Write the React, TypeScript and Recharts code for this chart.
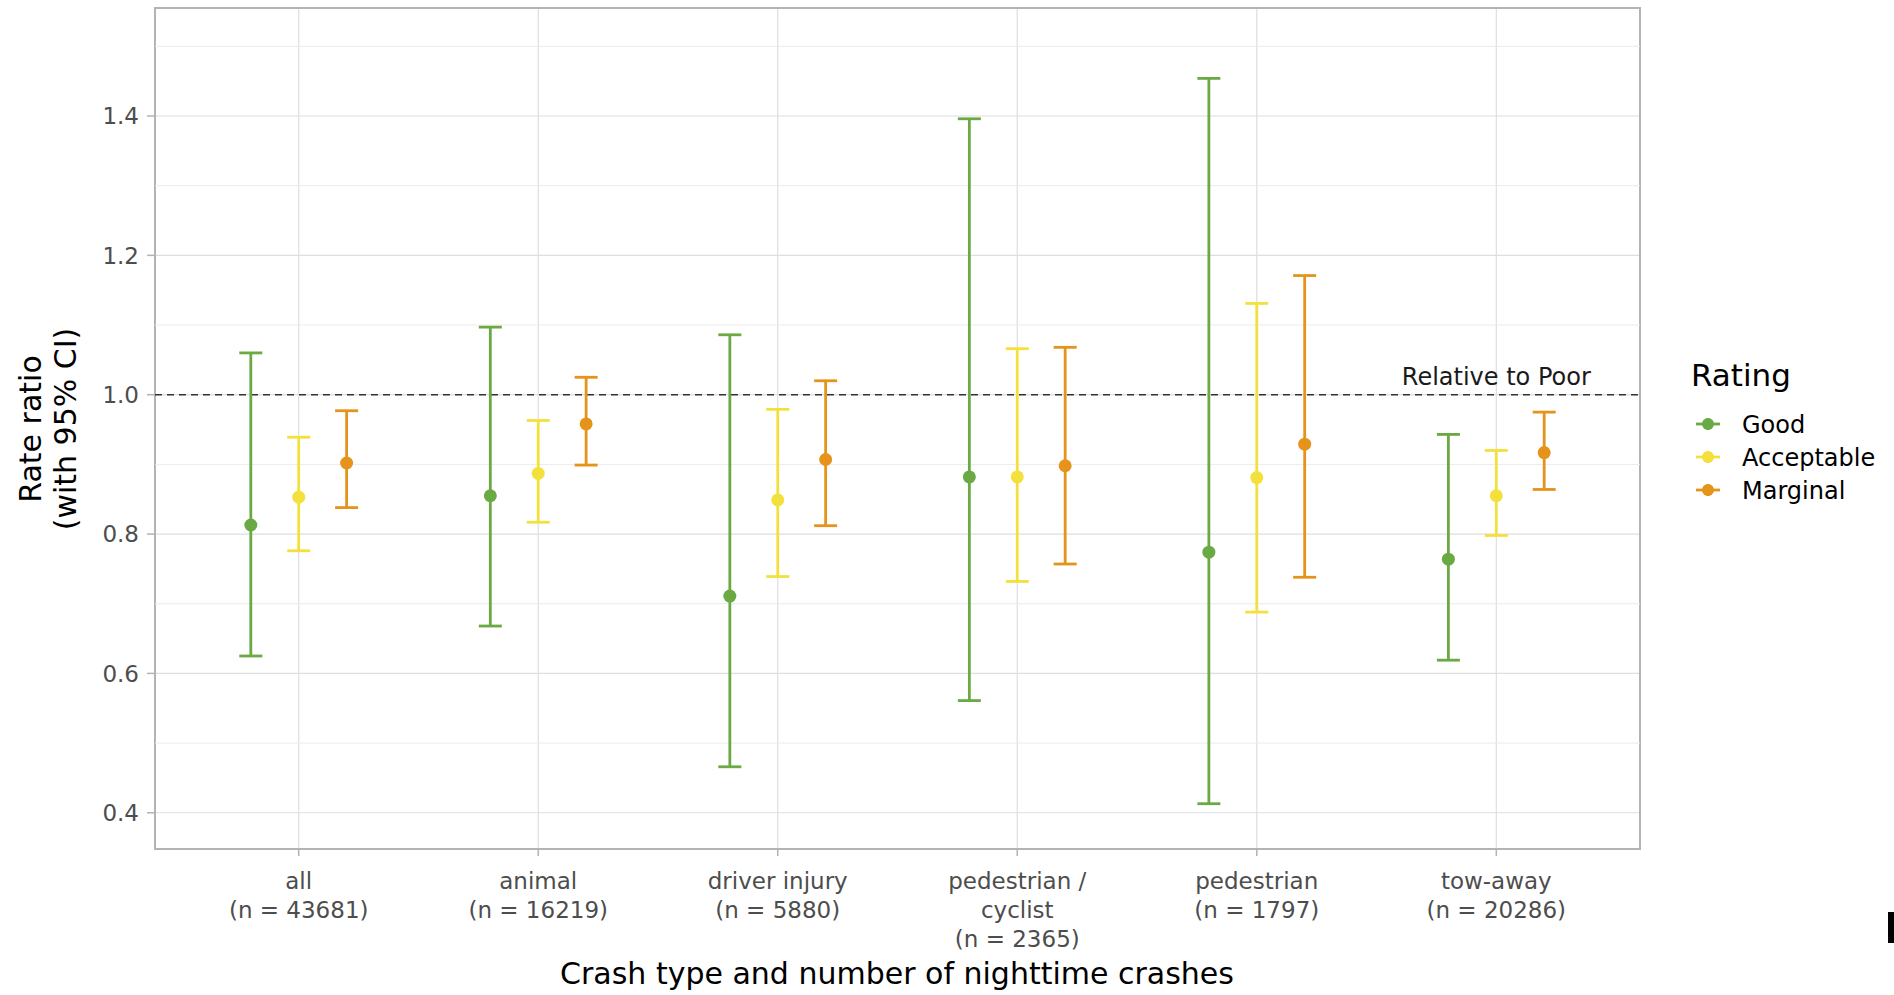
import { ComposedChart, Scatter, ErrorBar, XAxis, YAxis, CartesianGrid, ReferenceLine, ReferenceArea, ReferenceDot, Legend } from 'recharts';

const categories = ['all', 'animal', 'driver injury', 'pedestrian / cyclist', 'pedestrian', 'tow-away'];
const tickLines = [
  ['all', '(n = 43681)'],
  ['animal', '(n = 16219)'],
  ['driver injury', '(n = 5880)'],
  ['pedestrian /', 'cyclist', '(n = 2365)'],
  ['pedestrian', '(n = 1797)'],
  ['tow-away', '(n = 20286)'],
];
const yTicks = [0.4, 0.6, 0.8, 1.0, 1.2, 1.4];
const yMinor = [0.5, 0.7, 0.9, 1.1, 1.3, 1.5];

const goodEst = [0.813, 0.855, 0.711, 0.882, 0.774, 0.764];
const goodLow = [0.625, 0.668, 0.466, 0.561, 0.413, 0.619];
const goodHigh = [1.06, 1.097, 1.086, 1.396, 1.454, 0.943];

const accEst = [0.853, 0.887, 0.849, 0.882, 0.881, 0.855];
const accLow = [0.776, 0.817, 0.739, 0.732, 0.688, 0.798];
const accHigh = [0.939, 0.963, 0.979, 1.066, 1.131, 0.92];

const margEst = [0.902, 0.958, 0.907, 0.898, 0.929, 0.917];
const margLow = [0.838, 0.899, 0.812, 0.757, 0.738, 0.864];
const margHigh = [0.977, 1.025, 1.02, 1.068, 1.171, 0.975];

const series = [
  { name: 'Good', color: '#6aa944', offset: -0.2, est: goodEst, low: goodLow, high: goodHigh },
  { name: 'Acceptable', color: '#f4e03c', offset: 0, est: accEst, low: accLow, high: accHigh },
  { name: 'Marginal', color: '#e5931a', offset: 0.2, est: margEst, low: margLow, high: margHigh },
];

const buildRows = (s: (typeof series)[number]) =>
  categories.map((c, i) => ({
    crash: c,
    x: i + 1 + s.offset,
    y: s.est[i],
    err: [s.est[i] - s.low[i], s.high[i] - s.est[i]],
  }));

const Y_DOMAIN: [number, number] = [0.348, 1.555];
const X_DOMAIN: [number, number] = [0.4, 6.6];

const CrashTick = (props: any) => {
  const { x, y, payload } = props;
  const lines = tickLines[Math.round(payload.value) - 1] || [];
  return (
    <text x={x} y={y} textAnchor="middle" fill="#4d4d4d" fontSize={23}>
      {lines.map((l, i) => (
        <tspan key={i} x={x} y={y + 31 + i * 29}>
          {l}
        </tspan>
      ))}
    </text>
  );
};

const RatingLegend = () => (
  <svg width={210} height={170}>
    <text x={3} y={41} fontSize={31} fill="#000">
      Rating
    </text>
    {series.map((s, i) => {
      const cy = 79 + i * 33;
      return (
        <g key={s.name}>
          <line x1={8} x2={32} y1={cy} y2={cy} stroke={s.color} strokeWidth={2.8} />
          <line x1={20} x2={20} y1={cy - 6} y2={cy + 6} stroke={s.color} strokeWidth={2.8} />
          <circle cx={20} cy={cy} r={6} fill={s.color} />
          <text x={54} y={cy + 8.5} fontSize={24} fill="#000">
            {s.name}
          </text>
        </g>
      );
    })}
  </svg>
);

const YTitle = () => (
  <text x={41} y={429} textAnchor="middle" fontSize={30} fill="#000" transform="rotate(-90 41 429)">
    <tspan x={41} y={429}>Rate ratio</tspan>
    <tspan x={41} dy={35}>(with 95% CI)</tspan>
  </text>
);

const XTitle = () => (
  <text x={897} y={984} textAnchor="middle" fontSize={30} fill="#000">
    Crash type and number of nighttime crashes
  </text>
);

export default function App() {
  return (
    <div style={{ position: 'absolute', left: 0, top: 0, width: 1894, height: 995, background: '#fff', fontFamily: '"DejaVu Sans", sans-serif' }}>
      <ComposedChart width={1894} height={995} margin={{ top: 8, right: 254, bottom: 6, left: 75 }}>
        <CartesianGrid stroke="#dedede" strokeWidth={1.2} />
        {yMinor.map((v) => (
          <ReferenceLine key={v} y={v} stroke="#ebebeb" strokeWidth={1} />
        ))}
        <XAxis
          type="number"
          dataKey="x"
          domain={X_DOMAIN}
          ticks={[1, 2, 3, 4, 5, 6]}
          interval={0}
          allowDataOverflow
          height={140}
          axisLine={false}
          tickLine={{ stroke: '#b3b3b3', strokeWidth: 1.5 }}
          tickSize={7}
          tick={<CrashTick />}
          label={{ content: () => <XTitle /> }}
        />
        <YAxis
          type="number"
          dataKey="y"
          domain={Y_DOMAIN}
          ticks={yTicks}
          allowDataOverflow
          width={80}
          axisLine={false}
          tickLine={{ stroke: '#b3b3b3', strokeWidth: 1.5 }}
          tickSize={8}
          tickMargin={8}
          tick={{ fill: '#4d4d4d', fontSize: 23 }}
          tickFormatter={(v: number) => v.toFixed(1)}
          label={{ content: () => <YTitle /> }}
        />
        <ReferenceArea x1={X_DOMAIN[0]} x2={X_DOMAIN[1]} y1={Y_DOMAIN[0]} y2={Y_DOMAIN[1]} fill="none" stroke="#b3b3b3" strokeWidth={2} ifOverflow="visible" />
        <ReferenceLine y={1} stroke="#333" strokeWidth={1.5} strokeDasharray="7 5" />
        <ReferenceDot
          x={6}
          y={1}
          r={0}
          fill="none"
          stroke="none"
          label={{ value: 'Relative to Poor', position: 'top', offset: 10, fill: '#1a1a1a', fontSize: 24 }}
        />
        {series.map((s) => (
          <Scatter
            key={s.name}
            name={s.name}
            data={buildRows(s)}
            fill={s.color}
            isAnimationActive={false}
            shape={(p: any) => <circle cx={p.cx} cy={p.cy} r={6.5} fill={s.color} />}
          >
            <ErrorBar dataKey="err" direction="y" width={11.5} stroke={s.color} strokeWidth={2.8} />
          </Scatter>
        ))}
        <Legend
          layout="vertical"
          align="center"
          verticalAlign="middle"
          wrapperStyle={{ left: 1688, top: 345, width: 210 }}
          content={() => <RatingLegend />}
        />
      </ComposedChart>
      <div style={{ position: 'absolute', left: 1888, top: 912, width: 6, height: 31, background: '#000' }} />
    </div>
  );
}
